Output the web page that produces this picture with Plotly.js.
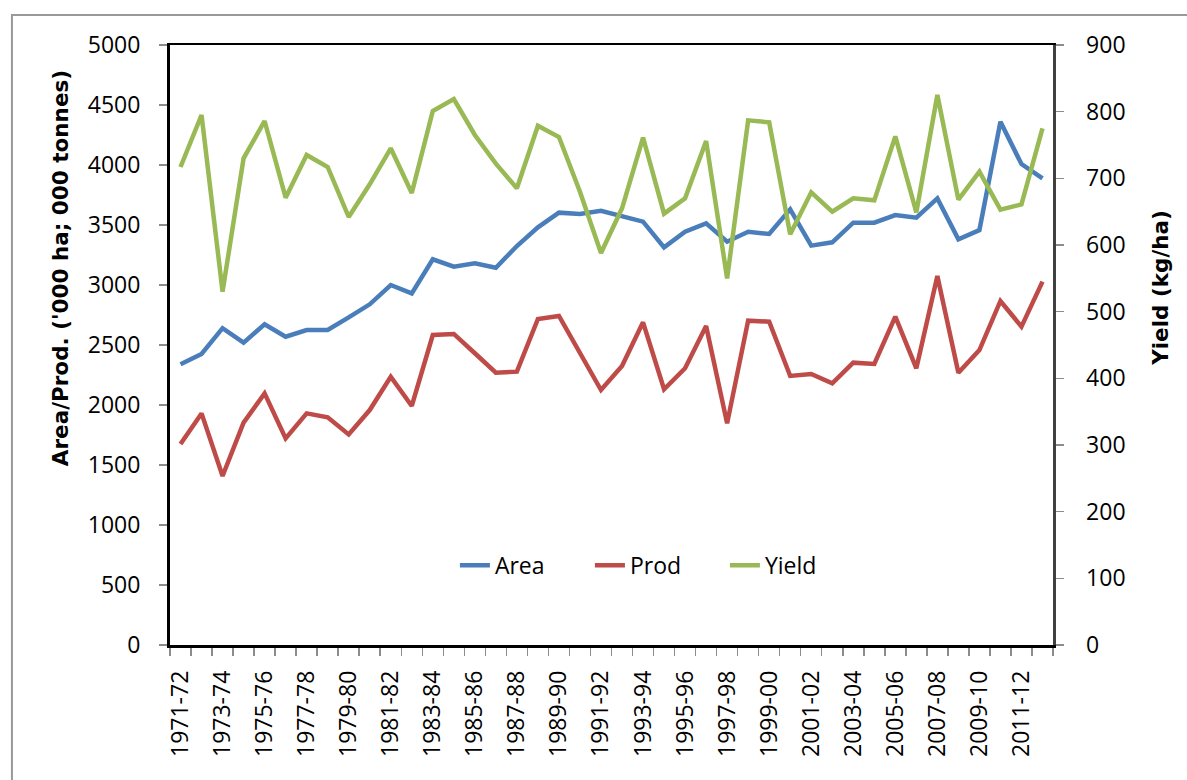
<!DOCTYPE html>
<html>
<head>
<meta charset="utf-8">
<script src="https://cdn.plot.ly/plotly-3.0.1.min.js"></script>
<style>html,body{margin:0;padding:0;background:#fff;}#chart{width:1187px;height:780px;}</style>
</head>
<body>
<div id="chart"></div>
<script>
const years = ["1971-72","1972-73","1973-74","1974-75","1975-76","1976-77","1977-78","1978-79","1979-80","1980-81",
"1981-82","1982-83","1983-84","1984-85","1985-86","1986-87","1987-88","1988-89","1989-90","1990-91",
"1991-92","1992-93","1993-94","1994-95","1995-96","1996-97","1997-98","1998-99","1999-00","2000-01",
"2001-02","2002-03","2003-04","2004-05","2005-06","2006-07","2007-08","2008-09","2009-10","2010-11",
"2011-12","2012-13"];

const area = [2340,2425,2640,2520,2672,2569,2625,2625,2730,2839,
3000,2930,3214,3153,3181,3144,3325,3481,3603,3592,
3619,3569,3528,3314,3444,3514,3361,3444,3425,3631,
3328,3356,3519,3519,3583,3561,3722,3381,3458,4361,
4008,3889];

const prod = [1675,1930,1408,1853,2097,1722,1930,1897,1755,1958,
2236,1992,2583,2592,2431,2269,2278,2717,2742,2431,
2125,2325,2689,2131,2306,2658,1847,2703,2694,2242,
2258,2181,2353,2342,2736,2306,3075,2269,2458,2867,
2653,3028];

const yieldKg = [717,795,530,730,786,671,735,717,642,691,
745,678,801,819,765,722,685,779,762,680,
588,655,761,647,670,756,550,787,784,616,
679,650,670,667,763,649,825,668,710,653,
661,775];

const leftTitle = "Area/Prod. ('000 ha; 000 tonnes)";
const rightTitle = "Yield (kg/ha)";

const idx = years.map((_, i) => i);
const labelIdx = idx.filter(i => i % 2 === 0);
const labelText = labelIdx.map(i => years[i]);
const boundaries = [];
for (let i = 0; i <= years.length; i++) boundaries.push(i - 0.5);

const font = "Open Sans, Liberation Sans, sans-serif";
const titleFont = "DejaVu Sans, sans-serif";

const traces = [
  {x: idx, y: area, name: "Area", type: "scatter", mode: "lines",
   line: {color: "#4A7EBB", width: 4.5}, yaxis: "y"},
  {x: idx, y: prod, name: "Prod", type: "scatter", mode: "lines",
   line: {color: "#BE4B48", width: 4.5}, yaxis: "y"},
  {x: idx, y: yieldKg, name: "Yield", type: "scatter", mode: "lines",
   line: {color: "#98B954", width: 4.5}, yaxis: "y2"}
];

const layout = {
  width: 1187, height: 780,
  margin: {l: 170, r: 134, t: 45, b: 135},
  paper_bgcolor: "#fff", plot_bgcolor: "#fff",
  showlegend: true,
  legend: {orientation: "h", x: 0.552, y: 0.133, xanchor: "center", yanchor: "middle",
           font: {family: font, size: 23, color: "#000"}, bgcolor: "rgba(0,0,0,0)",
           entrywidth: 90, entrywidthmode: "pixels", tracegroupgap: 0},
  xaxis: {
    range: [-0.5, years.length - 0.5], tickmode: "array", tickvals: labelIdx, ticktext: labelText,
    tickangle: -90, ticks: "", showgrid: false, zeroline: false,
    showline: true, linecolor: "#000", linewidth: 2.5, mirror: true,
    tickfont: {family: font, size: 23, color: "#000"},
    ticklabelstandoff: 14,
    minor: {tickmode: "array", tickvals: boundaries, ticks: "outside", ticklen: 8, tickcolor: "#8c8c8c", tickwidth: 1.5, showgrid: false}
  },
  yaxis: {
    range: [0, 5000], dtick: 500, tick0: 0, showgrid: false, zeroline: false,
    showline: true, linecolor: "#000", linewidth: 3,
    ticks: "outside", ticklen: 8, tickcolor: "#8c8c8c", tickwidth: 1.5,
    tickfont: {family: font, size: 23, color: "#000"},
    ticklabelstandoff: 14
  },
  yaxis2: {
    range: [0, 900], dtick: 100, tick0: 0, overlaying: "y", side: "right",
    showgrid: false, zeroline: false,
    showline: true, linecolor: "#404040", linewidth: 2.5,
    ticks: "outside", ticklen: 8, tickcolor: "#8c8c8c", tickwidth: 1.5,
    tickfont: {family: font, size: 23, color: "#000"},
    ticklabelstandoff: 18
  },
  annotations: [
    {text: leftTitle, xref: "paper", yref: "paper", x: -0.1246, y: 0.628, textangle: -90,
     showarrow: false, xanchor: "center", yanchor: "middle",
     font: {family: titleFont, size: 21.5, color: "#000", weight: "bold"}},
    {text: rightTitle, xref: "paper", yref: "paper", x: 1.121, y: 0.595, textangle: -90,
     showarrow: false, xanchor: "center", yanchor: "middle",
     font: {family: titleFont, size: 21.5, color: "#000", weight: "bold"}}
  ],
  shapes: [
    {type: "rect", xref: "paper", yref: "paper", x0: -0.179, x1: 1.2, y0: -0.3, y1: 1.05,
     line: {color: "#999", width: 2}, fillcolor: "rgba(0,0,0,0)", layer: "below"}
  ]
};

Plotly.newPlot("chart", traces, layout, {displayModeBar: false, staticPlot: true});
</script>
</body>
</html>
